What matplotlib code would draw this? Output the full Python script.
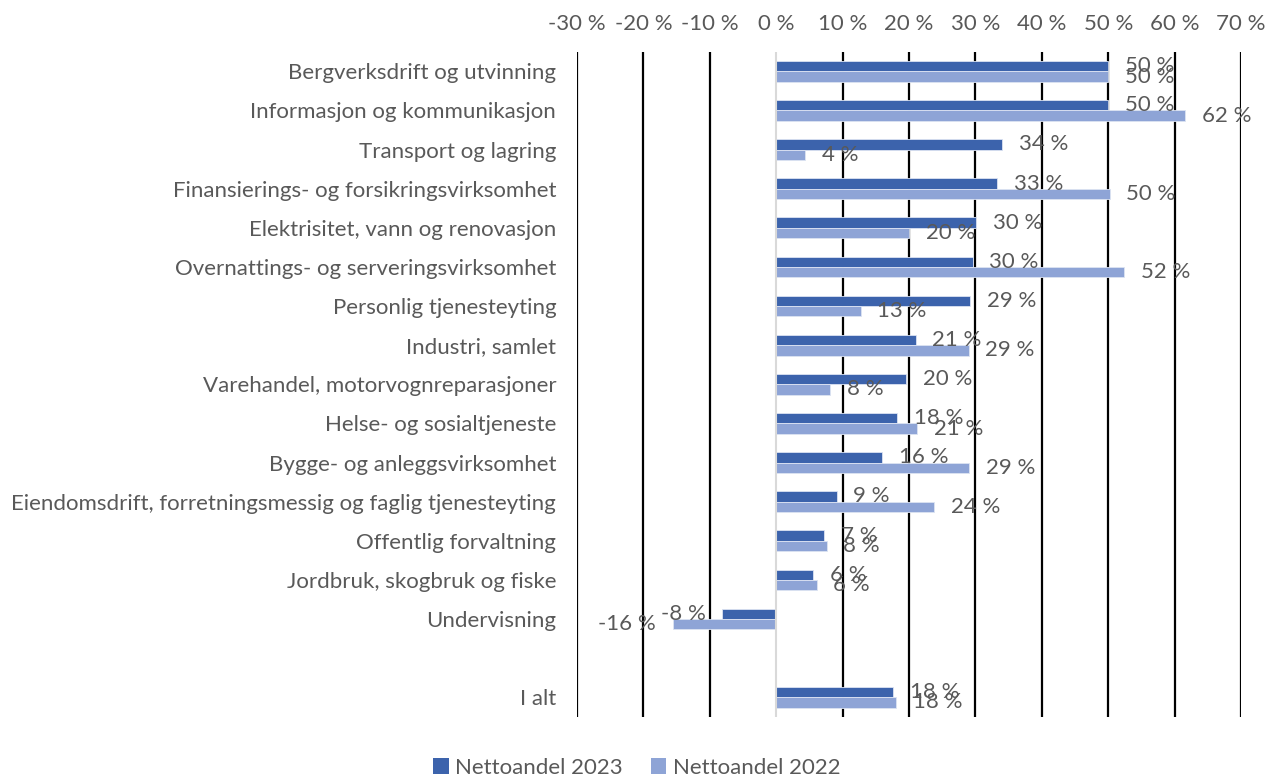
import matplotlib
matplotlib.use("Agg")
import matplotlib.pyplot as plt
import numpy as np
from matplotlib.patches import Patch

categories = [
    "Bergverksdrift og utvinning",
    "Informasjon og kommunikasjon",
    "Transport og lagring",
    "Finansierings- og forsikringsvirksomhet",
    "Elektrisitet, vann og renovasjon",
    "Overnattings- og serveringsvirksomhet",
    "Personlig tjenesteyting",
    "Industri, samlet",
    "Varehandel, motorvognreparasjoner",
    "Helse- og sosialtjeneste",
    "Bygge- og anleggsvirksomhet",
    "Eiendomsdrift, forretningsmessig og faglig tjenesteyting",
    "Offentlig forvaltning",
    "Jordbruk, skogbruk og fiske",
    "Undervisning",
    "",
    "I alt",
]
netto_2023 = [50.0, 50.0, 34.0, 33.3, 30.1, 29.6, 29.2, 21.0, 19.6, 18.2, 16.0, 9.1, 7.2, 5.6, -8.1, None, 17.6]
netto_2022 = [50.0, 61.6, 4.4, 50.2, 20.0, 52.4, 12.7, 29.0, 8.1, 21.2, 29.1, 23.8, 7.6, 6.1, -15.6, None, 18.1]
x_ticks = [-30, -20, -10, 0, 10, 20, 30, 40, 50, 60, 70]
series_names = ["Nettoandel 2023", "Nettoandel 2022"]

plt.rcParams['font.family'] = ['Lato', 'DejaVu Sans']
grey = "#595959"
c2023 = "#3C63AC"
c2022 = "#8EA4D6"
fs = 16

fig = plt.figure(figsize=(12.74, 7.79), dpi=100)
ax = fig.add_axes([577/1274, 1-716.8/779, (1241-577)/1274, (716.8-51.8)/779])

y = np.arange(len(categories))
h = 0.265
for vals, off, col in [(netto_2023, -h/2, c2023), (netto_2022, h/2, c2022)]:
    for i, v in enumerate(vals):
        if v is None:
            continue
        ax.barh(y[i] + off, v, height=h, color=col, edgecolor="#DCE3F2", linewidth=0.6, zorder=3)
        ha = "left" if v >= 0 else "right"
        dx = 12 if v >= 0 else -12
        ax.annotate(f"{round(v):d} %", xy=(v, y[i] + off), xytext=(dx, 0),
                    textcoords="offset points", ha=ha, va="center",
                    fontsize=fs, color=grey, zorder=5)

ax.set_xlim(-30, 70)
ax.set_ylim(len(categories) - 0.5, -0.5)
ax.set_xticks(x_ticks)
ax.set_xticklabels([f"{t} %" for t in x_ticks])
ax.xaxis.tick_top()
ax.set_yticks(y)
ax.set_yticklabels(categories)
ax.tick_params(axis="both", length=0, labelsize=fs, labelcolor=grey)
ax.tick_params(axis="x", pad=13)
ax.tick_params(axis="y", pad=15)
for s in ax.spines.values():
    s.set_visible(False)
for t in x_ticks:
    if t != 0:
        ax.axvline(t, color="black", linewidth=1.6, zorder=1)
ax.axvline(0, color="#D9D9D9", linewidth=1.5, zorder=4)

handles = [Patch(facecolor=c2023), Patch(facecolor=c2022)]
fig.legend(handles, series_names, loc="center", bbox_to_anchor=(0.5, 1-768/779), ncol=2,
           frameon=False, fontsize=fs, labelcolor=grey, handlelength=0.7, handleheight=0.7,
           handletextpad=0.3, columnspacing=1.25)

fig.savefig("out.png", dpi=100)
